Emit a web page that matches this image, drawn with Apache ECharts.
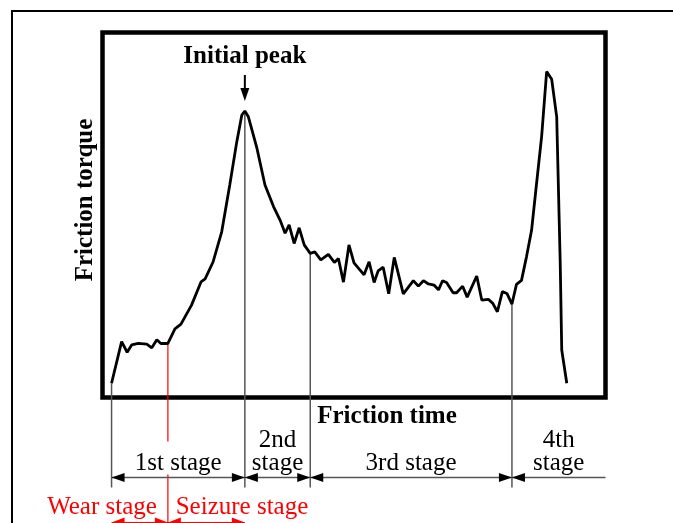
<!DOCTYPE html>
<html>
<head>
<meta charset="utf-8">
<script src="https://cdn.jsdelivr.net/npm/echarts@6/dist/echarts.min.js"></script>
<style>
html,body{margin:0;padding:0;background:#fff;}
#chart{width:673px;height:523px;}
</style>
</head>
<body>
<div id="chart"></div>
<script>
// friction time / friction torque (arbitrary units)
var time = [1.8, 3.8, 4.9, 5.8, 7.1, 8.8, 9.8, 10.8, 11.6, 13.0,
	14.4, 15.6, 17.7, 19.6, 20.4, 22.0, 23.7, 25.3, 26.7, 27.7,
	28.3, 29.0, 30.7, 32.3, 34.0, 35.3, 36.3, 37.1, 38.1, 39.1,
	40.1, 41.3, 42.2, 43.4, 44.9, 46.1, 46.9, 47.9, 49.0, 50.0,
	52.0, 53.0, 54.0, 54.8, 55.8, 56.9, 58.0, 59.8, 61.8, 62.8,
	63.8, 64.8, 65.9, 66.8, 67.6, 68.4, 69.7, 70.4, 71.6, 72.5,
	74.4, 75.4, 76.7, 77.6, 78.5, 79.5, 80.4, 81.4, 82.3, 83.3,
	84.3, 85.3, 86.3, 87.3, 88.3, 89.3, 90.3, 91.0, 91.3, 92.3];
var torque = [3.9, 15.3, 12.4, 14.4, 14.8, 14.6, 13.6, 15.8, 14.8, 14.8,
	18.8, 20.1, 25.3, 31.7, 32.5, 37.2, 45.4, 58.2, 70.1, 77.4,
	78.5, 76.9, 68.3, 58.2, 52.3, 48.6, 45.0, 47.3, 42.2, 46.5,
	41.8, 39.5, 39.9, 37.7, 39.2, 37.0, 38.1, 31.6, 41.8, 36.9,
	33.6, 37.2, 31.5, 34.7, 35.7, 28.4, 38.4, 28.4, 32.0, 30.5,
	32.0, 31.1, 30.8, 29.5, 32.0, 31.5, 28.7, 28.7, 30.5, 27.5,
	33.3, 26.7, 26.9, 25.8, 23.5, 29.0, 28.5, 25.6, 31.0, 32.1,
	38.6, 45.8, 58.7, 71.5, 89.3, 87.2, 76.9, 36.8, 13.0, 3.9];

// stage limits on the time axis
var stageBounds = [1.8, 28.3, 41.3, 81.4, 100];
var stageNames = [['1st stage'], ['2nd', 'stage'], ['3rd stage'], ['4th', 'stage']];
var wearSeizureBound = 13.0;
var subStageNames = ['Wear stage', 'Seizure stage'];

var serif = '"Liberation Serif", "Times New Roman", serif';

var seriesData = [];
for (var i = 0; i < time.length; i++) {
	seriesData.push([time[i], torque[i]]);
}

var chart = echarts.init(document.getElementById('chart'));
chart.setOption({
	animation: false,
	grid: {
		show: true,
		left: 102.5,
		top: 32.5,
		width: 503,
		height: 365,
		borderColor: '#000',
		borderWidth: 4.5,
		backgroundColor: 'transparent'
	},
	xAxis: { type: 'value', min: 0, max: 100, show: false },
	yAxis: { type: 'value', min: 0, max: 100, show: false },
	series: [{
		type: 'line',
		data: seriesData,
		symbol: 'none',
		z: 5,
		lineStyle: { color: '#000', width: 2.8 }
	}]
});

function toPx(t, v) {
	return chart.convertToPixel({ gridIndex: 0 }, [t, v]);
}
function torqueAt(t) {
	var best = 0;
	for (var i = 0; i < time.length; i++) {
		if (Math.abs(time[i] - t) < Math.abs(time[best] - t)) best = i;
	}
	return torque[best];
}
function arrowHead(tipX, tipY, dir, color, len, half) {
	return {
		type: 'polygon',
		shape: { points: [[tipX, tipY], [tipX - dir * len, tipY - half], [tipX - dir * len, tipY + half]] },
		style: { fill: color }
	};
}
function label(text, x, y, opts) {
	opts = opts || {};
	return {
		type: 'text',
		x: x, y: y,
		rotation: opts.rotation || 0,
		style: {
			text: text,
			fill: opts.color || '#000',
			fontFamily: serif,
			fontSize: 25,
			fontWeight: opts.bold ? 'bold' : 'normal',
			align: 'center',
			verticalAlign: 'middle'
		}
	};
}

var bottom = toPx(0, 0)[1];
var lineBottom = bottom + 90;
var arrowY = bottom + 80;
var g = [];

// outer frame
g.push({ type: 'polyline', shape: { points: [[12, 523], [12, 11], [673, 11]] }, style: { stroke: '#000', lineWidth: 2, fill: null } });

// stage boundary lines
for (var i = 0; i < 4; i++) {
	var p = toPx(stageBounds[i], torqueAt(stageBounds[i]));
	g.push({ type: 'line', shape: { x1: p[0], y1: p[1], x2: p[0], y2: lineBottom }, style: { stroke: '#555', lineWidth: 1.5 } });
}
// wear / seizure boundary (red)
var rp = toPx(wearSeizureBound, torqueAt(wearSeizureBound));
g.push({ type: 'line', shape: { x1: rp[0], y1: rp[1], x2: rp[0], y2: bottom + 44 }, style: { stroke: '#ff0000', lineWidth: 1.2 } });
g.push({ type: 'line', shape: { x1: rp[0], y1: bottom + 77, x2: rp[0], y2: 523 }, style: { stroke: '#ff0000', lineWidth: 1.2 } });

// stage arrows
var x0 = toPx(stageBounds[0], 0)[0];
var xEnd = toPx(stageBounds[4], 0)[0];
g.push({ type: 'line', shape: { x1: x0, y1: arrowY, x2: xEnd, y2: arrowY }, style: { stroke: '#555', lineWidth: 1.5 } });
for (var i = 0; i < 4; i++) {
	var bx = toPx(stageBounds[i], 0)[0];
	g.push(arrowHead(bx, arrowY, -1, '#000', 13, 4.5));
	if (i > 0) g.push(arrowHead(bx, arrowY, 1, '#000', 13, 4.5));
}
for (var i = 0; i < stageNames.length; i++) {
	var cx = (toPx(stageBounds[i], 0)[0] + toPx(stageBounds[i + 1], 0)[0]) / 2;
	var lines = stageNames[i];
	for (var k = 0; k < lines.length; k++) {
		g.push(label(lines[k], cx, bottom + 66 - (lines.length - 1 - k) * 23));
	}
}

// wear / seizure sub stages (red)
var redY = bottom + 125;
var rx = toPx(wearSeizureBound, 0)[0];
var b1 = toPx(stageBounds[1], 0)[0];
g.push({ type: 'line', shape: { x1: x0, y1: redY, x2: b1, y2: redY }, style: { stroke: '#ff0000', lineWidth: 1.2 } });
g.push(arrowHead(x0, redY, -1, '#ff0000', 13, 5));
g.push(arrowHead(rx, redY, 1, '#ff0000', 13, 5));
g.push(arrowHead(rx, redY, -1, '#ff0000', 13, 5));
g.push(arrowHead(b1, redY, 1, '#ff0000', 13, 5));
g.push(label(subStageNames[0], 102, bottom + 110, { color: '#ff0000' }));
g.push(label(subStageNames[1], 242, bottom + 110, { color: '#ff0000' }));

// axis titles
g.push(label('Friction time', 387, bottom + 19.5, { bold: true }));
g.push(label('Friction torque', 86, 200, { bold: true, rotation: Math.PI / 2 }));

// initial peak marker
var peakIdx = 0;
for (var i = 0; i < time.length; i++) {
	if (time[i] < 50 && torque[i] > torque[peakIdx]) peakIdx = i;
}
var pk = toPx(time[peakIdx], torque[peakIdx]);
g.push(label('Initial peak', pk[0], 57, { bold: true }));
g.push({ type: 'line', shape: { x1: pk[0], y1: 75, x2: pk[0], y2: 90 }, style: { stroke: '#000', lineWidth: 2 } });
g.push(arrowHead(pk[0], pk[1] - 10, 0, '#000', 0, 0));
g.push({ type: 'polygon', shape: { points: [[pk[0], pk[1] - 10], [pk[0] - 4.5, pk[1] - 23], [pk[0] + 4.5, pk[1] - 23]] }, style: { fill: '#000' } });

chart.setOption({ graphic: g });
</script>
</body>
</html>
